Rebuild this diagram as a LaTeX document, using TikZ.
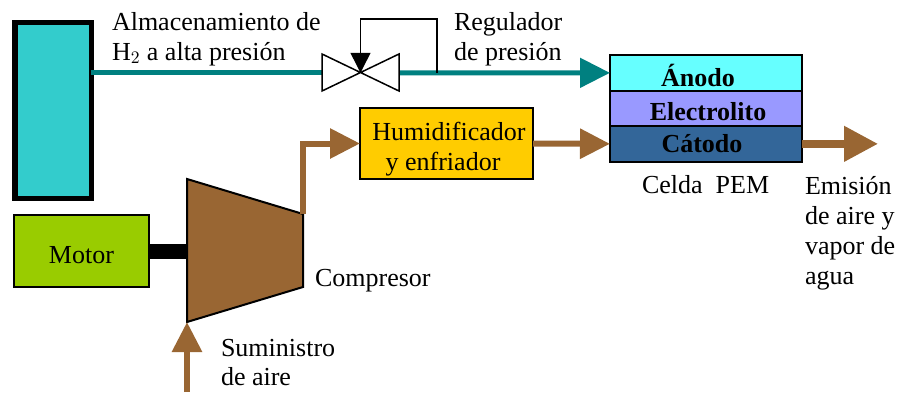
\documentclass[tikz,border=0pt]{standalone}
\usepackage{fontspec}
\setmainfont{Liberation Serif}
\usetikzlibrary{arrows.meta}
\definecolor{tankColor}{HTML}{33CCCC}
\definecolor{hydrogenColor}{HTML}{008080}
\definecolor{airColor}{HTML}{996633}
\definecolor{motorColor}{HTML}{99CC00}
\definecolor{humidColor}{HTML}{FFCC00}
\definecolor{anodeColor}{HTML}{66FFFF}
\definecolor{electrolyteColor}{HTML}{9999FF}
\definecolor{cathodeColor}{HTML}{336699}
\tikzset{
  every node/.style={font=\fontsize{14.8}{17}\selectfont, outer sep=0pt},
  lbl/.style={align=left, inner sep=0pt, anchor=west},
  layer/.style={draw, line width=0.04cm, minimum width=3.84cm, minimum height=0.71cm, inner sep=0pt, font=\fontsize{14.8}{17}\selectfont\bfseries},
  hydrogen/.style={draw=hydrogenColor, line width=0.1cm},
  air/.style={draw=airColor, line width=0.12cm},
  airhead/.style={-{Triangle[length=0.6cm,width=0.58cm,fill=airColor]}},
}
\begin{document}
\begin{tikzpicture}
  \useasboundingbox (0,0) rectangle (17.96,7.84);

  \node[draw, fill=tankColor, line width=0.11cm, minimum width=1.53cm, minimum height=3.52cm] (tank) at (1.06,5.63) {};
  \node[draw, fill=motorColor, line width=0.03cm, minimum width=2.7cm, minimum height=1.44cm] (motor) at (1.63,2.82) {\rule{0pt}{0.51cm}Motor};
  \node[draw, fill=humidColor, line width=0.03cm, minimum width=3.46cm, minimum height=1.42cm, inner sep=0pt, align=center] (humid) at (8.93,4.97) {\rule{0pt}{0.58cm}\hspace*{0.1cm}Humidificador\\y enfriador\hspace*{0.14cm}};

  % celda
  \node[layer, fill=anodeColor] (anode) at (14.12,6.383) {\rule{0pt}{0.56cm}Ánodo\hspace*{0.32cm}};
  \node[layer, fill=electrolyteColor] (electrolyte) at (14.12,5.673) {\rule{0pt}{0.5cm}\hspace*{0.08cm}Electrolito};
  \node[layer, fill=cathodeColor] (cathode) at (14.12,4.963) {Cátodo\hspace*{0.16cm}};

  % compresor
  \coordinate (compIn) at (3.74,1.4);
  \coordinate (compShaft) at (3.74,2.82);
  \coordinate (compOut) at (6.06,3.56);
  \coordinate (airIn) at (3.74,0);
  \coordinate (exhaust) at (17.56,4.963);
  \draw[fill=airColor, line width=0.04cm] (3.74,4.26) -- (compOut) -- (6.06,2.1) -- (compIn) -- cycle;
  \draw[line width=0.3cm] (motor.east) -- (compShaft);

  % valvula
  \coordinate (valve) at (7.21,6.385);
  \coordinate (valveIn) at (6.44,6.385);
  \coordinate (valveOut) at (7.98,6.385);
  \coordinate (tap) at (8.74,6.385);
  \draw[hydrogen] (tank.east |- valve) -- (valveIn);
  \draw[hydrogen, -{Triangle[length=0.6cm,width=0.58cm,fill=hydrogenColor]}] (valveOut) -- (anode.west);
  \draw[fill=white, line width=0.03cm] (6.44,6.76) -- (7.98,6.02) -- (7.98,6.76) -- (6.44,6.02) -- cycle;
  \draw[line width=0.03cm, -{Triangle[length=0.4cm,width=0.4cm]}] (tap) |- (7.21,7.46) -- (valve);

  % aire
  \draw[air, airhead] (airIn) -- (compIn);
  \draw[air, airhead] (compOut) |- (humid.west);
  \draw[air, airhead] (humid.east) -- (cathode.west);
  \draw[draw=airColor, line width=0.15cm, -{Triangle[length=0.68cm,width=0.68cm,fill=airColor]}] (cathode.east) -- (exhaust);

  % textos
  \node[lbl] (storage) at (2.24,7.06) {Almacenamiento de\\H$_2$ a alta presión};
  \node[lbl] (regulator) at (9.08,7.06) {Regulador\\de presión};
  \node[lbl] (cell) at (12.84,4.14) {Celda\ \ PEM};
  \node[lbl] (emission) at (16.1,3.18) {Emisión\\de aire y\\vapor de\\agua};
  \node[lbl] (compressor) at (6.3,2.22) {Compresor};
  \node[lbl] (supply) at (4.42,0.59) {Suministro\\de aire};
\end{tikzpicture}
\end{document}
